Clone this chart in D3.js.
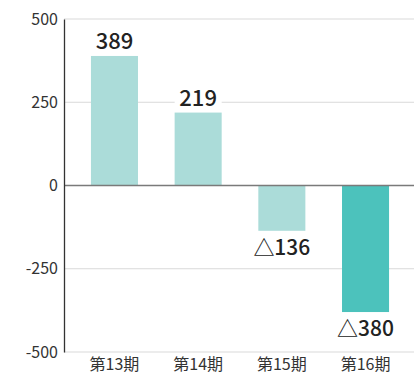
<!DOCTYPE html>
<html><head><meta charset="utf-8">
<script src="https://cdn.jsdelivr.net/npm/d3@7"></script>
<style>body{margin:0;background:#fff}svg{display:block}</style>
</head><body><svg id="c" width="414" height="376"></svg>
<script>
const categories = ["第13期", "第14期", "第15期", "第16期"];
const values = [389, 219, -136, -380];
const yTicks = [500, 250, 0, -250, -500];
const barColors = ["#abdcd9", "#abdcd9", "#abdcd9", "#4cc2bc"];

(function () {
const svg = d3.select("#c");
const plotLeft = 64, plotRight = 414, plotTop = 19, plotBottom = 352;
const font = "'Noto Sans CJK JP','Noto Sans',sans-serif";

const x = d3.scaleBand().domain(categories).range([plotLeft + 1, plotRight + 1]).paddingInner(0.438).paddingOuter(0.31);
const y = d3.scaleLinear().domain([-500, 500]).range([plotBottom, plotTop]);

// gridlines
svg.append("g").selectAll("line").data(yTicks.filter(t => t !== 0)).join("line")
  .attr("x1", plotLeft).attr("x2", plotRight).attr("y1", d => y(d)).attr("y2", d => y(d))
  .attr("stroke", "#d9d9d9").attr("stroke-width", 1.2);

// bars
svg.append("g").selectAll("rect").data(values).join("rect")
  .attr("x", (d, i) => x(categories[i])).attr("width", x.bandwidth())
  .attr("y", d => y(Math.max(0, d))).attr("height", d => Math.abs(y(d) - y(0)))
  .attr("fill", (d, i) => barColors[i]);

// zero line
svg.append("line").attr("x1", plotLeft).attr("x2", plotRight).attr("y1", y(0)).attr("y2", y(0))
  .attr("stroke", "#7a7a7a").attr("stroke-width", 1.5);

// y axis
const yAxis = svg.append("g").attr("transform", `translate(${plotLeft},0)`)
  .call(d3.axisLeft(y).tickValues(yTicks).tickSize(0).tickPadding(6).tickFormat(d => String(d)));
yAxis.select(".domain").attr("stroke", "#333").attr("stroke-width", 1.3);
yAxis.selectAll("text").attr("font-family", font).attr("font-size", 16).attr("fill", "#333");

// x axis labels
svg.append("g").selectAll("text").data(categories).join("text")
  .attr("x", d => x(d) + x.bandwidth() / 2).attr("y", 370)
  .attr("text-anchor", "middle").attr("font-family", font).attr("font-size", 16).attr("fill", "#333")
  .text(d => d);

// value labels on a white plate; negatives use the △ convention
const labelY = d => d >= 0 ? y(d) - 7 : y(d) + 24;
const labels = svg.append("g").selectAll("g").data(values).join("g");
labels.append("rect")
  .attr("x", (d, i) => x(categories[i])).attr("width", x.bandwidth())
  .attr("y", d => labelY(d) - 19).attr("height", 23).attr("fill", "#fff");
labels.append("text")
  .attr("x", (d, i) => x(categories[i]) + x.bandwidth() / 2)
  .attr("y", labelY)
  .attr("text-anchor", "middle").attr("font-family", font)
  .attr("font-size", d => d >= 0 ? 22 : 21)
  .attr("font-weight", 500).attr("fill", "#222")
  .text(d => d >= 0 ? d : "△" + Math.abs(d));
})();
</script></body></html>
